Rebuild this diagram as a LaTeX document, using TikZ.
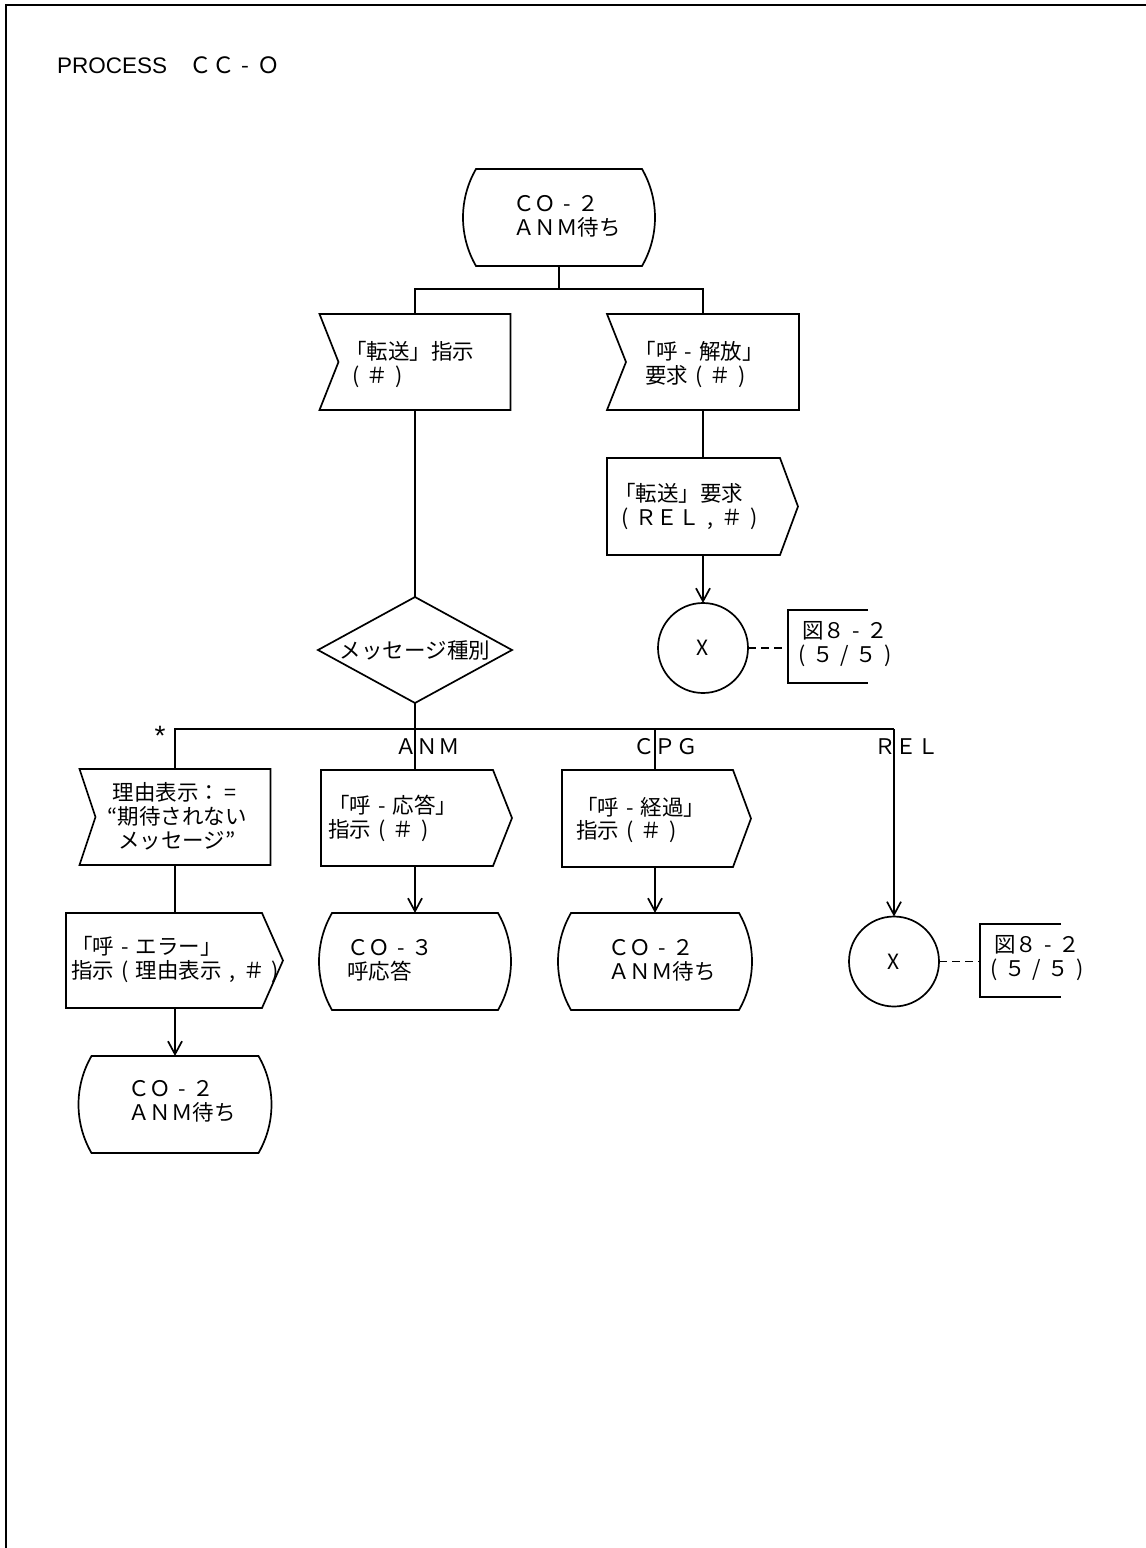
\documentclass[tikz,border=0pt]{standalone}
\usepackage{fontspec}
\setmainfont{Noto Sans CJK JP}
\newfontfamily\latinsans{Liberation Sans}
\usetikzlibrary{calc,arrows.meta}

% full-width cells holding narrow punctuation, centred in the cell
\newcommand\fwl{\makebox[1em]{(}}
\newcommand\fwr{\makebox[1em]{)}}
\newcommand\fwh{\makebox[1em]{-}}
\newcommand\fws{\makebox[1em]{/}}
\newcommand\fwc{\makebox[1em]{,}}
\newcommand\fwe{\makebox[1em]{=}}

% SDL symbol outlines drawn around invisible rectangular nodes
\newcommand\sdlstate[1]{%
  \draw ($(#1.north west)+(13,0)$) -- ($(#1.north east)+(-13,0)$)
    .. controls ($(#1.east)+(-4.5,-33.8)$) and ($(#1.east)+(0,-17)$) .. (#1.east)
    .. controls ($(#1.east)+(0,17)$) and ($(#1.east)+(-4.5,33.8)$) .. ($(#1.south east)+(-13,0)$)
    -- ($(#1.south west)+(13,0)$)
    .. controls ($(#1.west)+(4.5,33.8)$) and ($(#1.west)+(0,17)$) .. (#1.west)
    .. controls ($(#1.west)+(0,-17)$) and ($(#1.west)+(4.5,-33.8)$) .. cycle;}
\newcommand\sdlinput[2]{%
  \draw (#1.north west) -- (#1.north east) -- (#1.south east) -- (#1.south west)
    -- ($(#1.west)+(#2,0)$) -- cycle;}
\newcommand\sdloutput[2]{%
  \draw (#1.north west) -- (#1.north east) -- ($(#1.east)+(#2,0)$)
    -- (#1.south east) -- (#1.south west) -- cycle;}
\newcommand\sdldecision[1]{%
  \draw (#1.north) -- (#1.east) -- (#1.south) -- (#1.west) -- cycle;}
\newcommand\sdlref[1]{%
  \draw (#1.north east) -- (#1.north west) -- (#1.south west) -- (#1.south east);}

\begin{document}
\begin{tikzpicture}[x=1pt,y=-1pt,line width=1.7pt,line join=miter,
  every node/.style={inner sep=0pt,outer sep=0pt,font=\fontsize{21.5pt}{24pt}\selectfont},
  box/.style 2 args={rectangle,minimum width=#1,minimum height=#2},
  txt/.style={anchor=west,align=left},
  ctxt/.style={anchor=center,align=center},
  flow/.style={-{Straight Barb[length=13pt,width=14pt]}},
  link/.style={dash pattern=on 8pt off 5pt},
  conn/.style={draw,circle,minimum size=90pt,font=\fontsize{21pt}{22pt}\selectfont}]

\useasboundingbox (0,0) rectangle (1146,1548);
\draw[line width=2pt] (6,1548) -- (6,4.5) -- (1146,4.5);

\node[anchor=base west,font=\fontsize{22.5pt}{24pt}\selectfont] (title) at (57,73)
  {{\latinsans PROCESS}　ＣＣ\fwh Ｏ};

% ---- upper part
\node[box={192pt}{97pt}] (st1) at (559,217.5) {};
\node[txt] (st1t) at (513,216) {ＣＯ\fwh ２\\ＡＮＭ待ち};
\sdlstate{st1}

\node[box={191pt}{96pt}] (in1) at (415,362) {};
\node[txt] (in1t) at (345,364.5) {「転送」指示\\\fwl＃\fwr};
\sdlinput{in1}{19}

\node[box={192pt}{96pt}] (in2) at (703,362) {};
\node[ctxt] (in2t) at (699,364.5) {「呼\fwh 解放」\\要求\fwl＃\fwr};
\sdlinput{in2}{19}

\coordinate (j1) at (559,289);
\draw (st1.south) -- (j1);
\draw (in1.north) |- (j1) -| (in2.north);

\node[box={173pt}{97pt}] (o1) at (693.5,506.5) {};
\node[txt] (o1t) at (614,506.5) {「転送」要求\\\fwl ＲＥＬ\fwc＃\fwr};
\sdloutput{o1}{18}
\draw (in2.south) -- (in2.south |- o1.north);

\node[conn] (c1) at (703,648) {X};
\draw[flow] (o1.south -| c1.north) -- (c1.north);

\node[box={80pt}{73pt}] (b1) at (828,646.5) {};
\node[ctxt] (b1t) at (845,644) {図８\fwh ２\\\fwl ５\fws ５\fwr};
\sdlref{b1}
\draw[link] (c1.east) -- (c1.east -| b1.west);

\node[box={194pt}{106pt}] (d1) at (415,650) {メッセージ種別};
\sdldecision{d1}
\draw (in1.south) -- (d1.north);

% ---- branches of the decision
\node[box={191pt}{96pt}] (in3) at (175,817) {};
\node[ctxt] (in3t) at (177,816.7) {理由表示：\fwe\\“期待されない\\メッセージ”};
\sdlinput{in3}{16}

\node[box={172pt}{96pt}] (o2) at (407,818) {};
\node[txt] (o2t) at (328,818.5) {「呼\fwh 応答」\\指示\fwl＃\fwr};
\sdloutput{o2}{19}

\node[box={171pt}{97pt}] (o3) at (647.5,818.5) {};
\node[txt] (o3t) at (576,820) {「呼\fwh 経過」\\指示\fwl＃\fwr};
\sdloutput{o3}{18}

\node[conn] (c2) at (894,961.5) {X};

\coordinate (j2) at (415,729);
\draw (d1.south) -- (d1.south |- o2.north);
\draw (in3.north) |- (j2) -- (j2 -| c2.north);
\draw[flow] (j2 -| c2.north) -- (c2.north);

\node[font=\latinsans\fontsize{28pt}{28pt}\selectfont] (lstar) at (160,736) {*};
\node[txt] (lanm) at (395,747) {ＡＮＭ};
\node[txt] (lcpg) at (633,747) {ＣＰＧ};
\node[txt] (lrel) at (874,747) {ＲＥＬ};

\node[box={196pt}{95pt}] (o4) at (164,960.5) {};
\node[txt] (o4t) at (71,959) {「呼\fwh エラー」\\指示\fwl 理由表示\fwc＃\fwr};
\sdloutput{o4}{21}
\draw (in3.south) -- (in3.south |- o4.north);

\node[box={193pt}{97pt}] (st2) at (175,1104.5) {};
\node[txt] (st2t) at (128,1101.5) {ＣＯ\fwh ２\\ＡＮＭ待ち};
\sdlstate{st2}
\draw[flow] (o4.south -| st2.north) -- (st2.north);

\node[box={192pt}{97pt}] (st3) at (415,961.5) {};
\node[txt] (st3t) at (347,960) {ＣＯ\fwh ３\\呼応答};
\sdlstate{st3}
\draw[flow] (o2.south -| st3.north) -- (st3.north);

\node[box={194pt}{97pt}] (st4) at (655,961.5) {};
\node[txt] (st4t) at (608,960) {ＣＯ\fwh ２\\ＡＮＭ待ち};
\sdlstate{st4}
\draw (j2 -| st4.north) -- (st4.north |- o3.north);
\draw[flow] (o3.south -| st4.north) -- (st4.north);

\node[box={81pt}{73pt}] (b2) at (1020.5,960.5) {};
\node[ctxt] (b2t) at (1037,958) {図８\fwh ２\\\fwl ５\fws ５\fwr};
\sdlref{b2}
\draw[link] (c2.east) -- (c2.east -| b2.west);
\end{tikzpicture}
\end{document}
